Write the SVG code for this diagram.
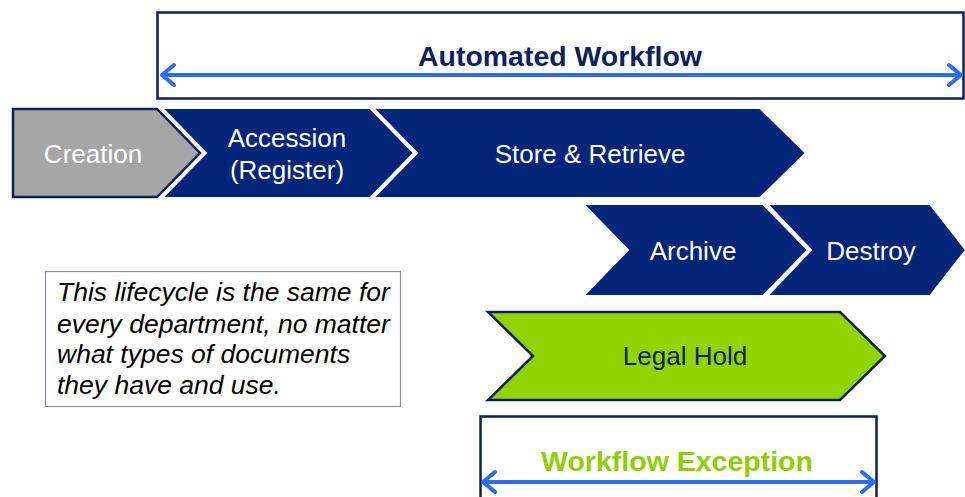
<svg xmlns="http://www.w3.org/2000/svg" width="965" height="497" viewBox="0 0 965 497">
<defs>
<style>
.chev{fill:#03267a;stroke:#ffffff;stroke-width:2}
.lbl{font-family:"Liberation Sans",Arial,sans-serif;font-size:26px;fill:#ffffff;text-anchor:middle}
.frame{fill:#ffffff;stroke:#0c1f5e;stroke-width:2.5}
.arr{stroke:#2b6cf6;stroke-width:4;fill:none;stroke-linecap:round;stroke-linejoin:round}
.note{font-family:"Liberation Sans",Arial,sans-serif;font-size:26.5px;font-style:italic;fill:#000000}
</style>
</defs>
<rect width="965" height="497" fill="#ffffff"/>
<g id="automated-workflow">
<rect class="frame" x="157.5" y="12.5" width="806" height="86"/>
<text x="560" y="66" font-family="'Liberation Sans',Arial,sans-serif" font-size="27" font-weight="bold" fill="#0c2160" text-anchor="middle" textLength="284" lengthAdjust="spacingAndGlyphs">Automated Workflow</text>
</g>
<g id="creation">
<polygon points="13,109 157,109 200,153 157,197 13,197" fill="#a6a6a6" stroke="#0c1f5e" stroke-width="2.5"/>
<text class="lbl" x="93" y="163" fill="#f2f2f2">Creation</text>
</g>
<g id="accession">
<polygon class="chev" points="162,108 370,108 414,153 370,198 162,198 206,153"/>
<text class="lbl" x="287" y="147">Accession</text>
<text class="lbl" x="287" y="179">(Register)</text>
</g>
<g id="store-retrieve">
<polygon class="chev" points="373,108 760,108 806,153 760,198 373,198 417,153"/>
<text class="lbl" x="590" y="163">Store &amp; Retrieve</text>
</g>
<g id="archive">
<polygon class="chev" points="583,204 763,204 808,250 763,296 583,296 628,250"/>
<text class="lbl" x="693" y="260">Archive</text>
</g>
<g id="destroy">
<polygon class="chev" points="767,204 930,204 966,250 930,296 767,296 811,250"/>
<text class="lbl" x="871" y="260">Destroy</text>
</g>
<g id="note">
<rect x="45.5" y="271.5" width="355" height="135" fill="#ffffff" stroke="#8c8c9a" stroke-width="1.2"/>
<text class="note" x="57" y="301">This lifecycle is the same for</text>
<text class="note" x="57" y="333">every department, no matter</text>
<text class="note" x="57" y="363">what types of documents</text>
<text class="note" x="57" y="394">they have and use.</text>
</g>
<g id="legal-hold">
<polygon points="488,312 840,312 885,356 840,400 488,400 533,356" fill="#92d400" stroke="#0c1f5e" stroke-width="2.5"/>
<text x="685" y="365" font-family="'Liberation Sans',Arial,sans-serif" font-size="26" fill="#0c2160" text-anchor="middle">Legal Hold</text>
</g>
<g id="workflow-exception">
<rect class="frame" x="480.5" y="416.5" width="396" height="90"/>
<text x="677" y="471" font-family="'Liberation Sans',Arial,sans-serif" font-size="28.5" font-weight="bold" fill="#8ed100" text-anchor="middle">Workflow Exception</text>
</g>
<g id="connectors">
<path class="arr" d="M162,75 L961,75 M174,65 L162,75 L174,85 M949,65 L961,75 L949,85"/>
<path class="arr" d="M483,482 L874,482 M495,472 L483,482 L495,492 M862,472 L874,482 L862,492"/>
</g>
</svg>
